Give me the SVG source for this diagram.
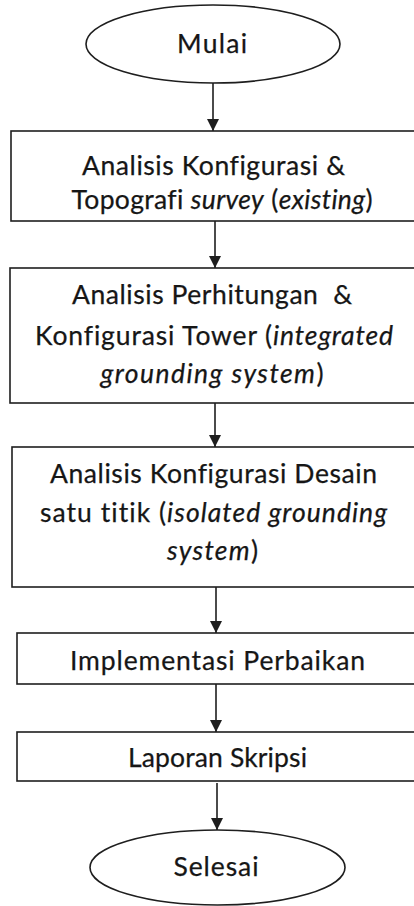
<svg xmlns="http://www.w3.org/2000/svg" width="414" height="906" viewBox="0 0 414 906">
<defs>
<style>
.shape{fill:#fff;stroke:#1e1e1e;stroke-width:1.6}
.edge{fill:none;stroke:#1e1e1e;stroke-width:1.6}
.t{font-family:Lato,"Open Sans","Liberation Sans",sans-serif;font-size:26.5px;fill:#161616;text-anchor:middle;font-variant-ligatures:none;font-feature-settings:"liga" 0;stroke:#161616;stroke-width:0.25}
.i{font-style:italic}
</style>
<marker id="arr" markerUnits="userSpaceOnUse" markerWidth="14" markerHeight="14" viewBox="0 0 14 14" refX="12" refY="7" orient="auto">
<path d="M0,1 L12,7 L0,13 Z" fill="#1e1e1e"/>
</marker>
</defs>
<rect width="414" height="906" fill="#fff"/>
<g id="connectors">
<line class="edge" x1="213" y1="83" x2="213" y2="131" marker-end="url(#arr)"/>
<line class="edge" x1="215" y1="221" x2="215" y2="268" marker-end="url(#arr)"/>
<line class="edge" x1="215" y1="403" x2="215" y2="447" marker-end="url(#arr)"/>
<line class="edge" x1="216" y1="587" x2="216" y2="633" marker-end="url(#arr)"/>
<line class="edge" x1="216" y1="684" x2="216" y2="732" marker-end="url(#arr)"/>
<line class="edge" x1="217" y1="783" x2="217" y2="830" marker-end="url(#arr)"/>
</g>
<g id="start">
<ellipse class="shape" cx="213" cy="44" rx="127" ry="39"/>
<text class="t" x="212" y="53" textLength="70">Mulai</text>
</g>
<g id="step1">
<rect class="shape" x="11" y="131" width="420" height="90"/>
<text class="t" x="213.5" y="175" textLength="263">Analisis Konfigurasi &amp;</text>
<text class="t" x="222" y="209" textLength="301">Topografi <tspan class="i">survey</tspan> (<tspan class="i">existing</tspan>)</text>
</g>
<g id="step2">
<rect class="shape" x="10" y="268" width="420" height="135"/>
<text class="t" x="212" y="304" textLength="280" xml:space="preserve">Analisis Perhitungan  &amp;</text>
<text class="t" x="214" y="345" textLength="358">Konfigurasi Tower (<tspan class="i">integrated</tspan></text>
<text class="t" x="212" y="383" textLength="223"><tspan class="i">grounding system</tspan>)</text>
</g>
<g id="step3">
<rect class="shape" x="12" y="447" width="420" height="140"/>
<text class="t" x="213.5" y="483" textLength="327">Analisis Konfigurasi Desain</text>
<text class="t" x="213.5" y="522" textLength="347">satu titik (<tspan class="i">isolated grounding</tspan></text>
<text class="t" x="212.5" y="560" textLength="91"><tspan class="i">system</tspan>)</text>
</g>
<g id="step4">
<rect class="shape" x="17" y="633" width="420" height="51"/>
<text class="t" x="217.5" y="670" textLength="295">Implementasi Perbaikan</text>
</g>
<g id="step5">
<rect class="shape" x="17" y="732" width="420" height="49"/>
<text class="t" x="217.5" y="767" textLength="179">Laporan Skripsi</text>
</g>
<g id="end">
<ellipse class="shape" cx="217.5" cy="867.5" rx="127.5" ry="37.5"/>
<text class="t" x="216" y="876" textLength="85">Selesai</text>
</g>
</svg>
